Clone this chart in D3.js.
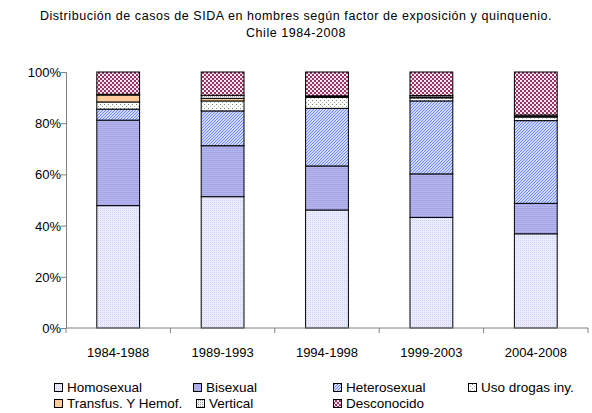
<!DOCTYPE html>
<html>
<head>
<meta charset="utf-8">
<script src="https://cdn.jsdelivr.net/npm/d3@7"></script>
<style>
  body { margin: 0; background: #fff; }
  svg text { font-family: "Liberation Sans", Arial, sans-serif; fill: #000; }
</style>
</head>
<body>
<svg width="592" height="413"></svg>
<script>
// quinquenios and the share (%) of each exposure factor
var periods = ["1984-1988", "1989-1993", "1994-1998", "1999-2003", "2004-2008"];
var homosexual  = [47.8, 51.3, 46.1, 43.2, 36.8];
var bisexual    = [33.4, 19.9, 17.2, 17.0, 11.9];
var heterosexual = [4.3, 13.6, 22.5, 28.5, 32.3];
var usoDrogas   = [2.8, 3.9, 4.3, 1.2, 1.4];
var transfus    = [2.7, 1.0, 0.3, 0.3, 0.3];
var vertical    = [0.3, 1.2, 0.3, 0.6, 0.5];
var desconocido = [8.7, 9.1, 9.3, 9.2, 16.8];
var yTicks = [0, 20, 40, 60, 80, 100];

var seriesNames = ["Homosexual", "Bisexual", "Heterosexual", "Uso drogas iny.",
  "Transfus. Y Hemof.", "Vertical", "Desconocido"];
var seriesValues = [homosexual, bisexual, heterosexual, usoDrogas, transfus, vertical, desconocido];
var patternIds = ["p-homo", "p-bi", "p-hetero", "p-uso", "p-trans", "p-vert", "p-desc"];

var svg = d3.select("svg");
var defs = svg.append("defs");

// fill patterns that mimic the old spreadsheet hatches
function pattern(id, size, bg, draw) {
  var p = defs.append("pattern")
    .attr("id", id)
    .attr("patternUnits", "userSpaceOnUse")
    .attr("width", size).attr("height", size);
  p.append("rect").attr("width", size).attr("height", size).attr("fill", bg);
  draw(p);
}
pattern("p-homo", 2, "#ececff", function(p) {
  p.append("rect").attr("x", 0).attr("y", 0).attr("width", 1).attr("height", 1).attr("fill", "#d2d2f6");
});
pattern("p-bi", 2, "#b6b6f0", function(p) {
  p.append("rect").attr("x", 0).attr("y", 0).attr("width", 2).attr("height", 1).attr("fill", "#a4a4e4");
});
pattern("p-hetero", 3, "#ffffff", function(p) {
  p.append("path").attr("d", "M0,3 L3,0 M-1,1 L1,-1 M2,4 L4,2")
    .attr("stroke", "#6680ff").attr("stroke-width", 1.1);
});
pattern("p-uso", 4, "#ffffff", function(p) {
  p.append("rect").attr("x", 0).attr("y", 0).attr("width", 1).attr("height", 1).attr("fill", "#6f866f");
  p.append("rect").attr("x", 2).attr("y", 2).attr("width", 1).attr("height", 1).attr("fill", "#9fb09f");
});
pattern("p-trans", 2, "#ffcc99", function(p) {});
pattern("p-vert", 2, "#f4f4f4", function(p) {
  p.append("rect").attr("x", 0).attr("y", 0).attr("width", 1).attr("height", 1).attr("fill", "#999");
});
pattern("p-desc", 4, "#993366", function(p) {
  p.append("rect").attr("x", 0).attr("y", 0).attr("width", 2).attr("height", 2).attr("fill", "#f6e6ee");
  p.append("rect").attr("x", 2).attr("y", 2).attr("width", 2).attr("height", 2).attr("fill", "#f6e6ee");
});

// title
svg.append("text").attr("x", 296).attr("y", 20).attr("text-anchor", "middle")
  .style("font-size", "12.5px").style("letter-spacing", "0.55px")
  .text("Distribución de casos de SIDA en hombres según factor de exposición y quinquenio.");
svg.append("text").attr("x", 296).attr("y", 37).attr("text-anchor", "middle")
  .style("font-size", "12.5px").style("letter-spacing", "0.55px")
  .text("Chile 1984-2008");

// scales
var x = d3.scaleBand().domain(periods).range([66, 588]).paddingInner(0.59).paddingOuter(0.295);
var y = d3.scaleLinear().domain([0, 100]).range([328, 72]);

// stack the series
var rows = periods.map(function(p, i) {
  var r = { period: p };
  seriesNames.forEach(function(n, k) { r[n] = seriesValues[k][i]; });
  return r;
});
var stacked = d3.stack().keys(seriesNames)(rows);

var layers = svg.append("g").selectAll("g")
  .data(stacked)
  .join("g")
    .attr("fill", function(d, k) { return "url(#" + patternIds[k] + ")"; });

layers.selectAll("rect")
  .data(function(d) { return d; })
  .join("rect")
    .attr("x", function(d) { return x(d.data.period); })
    .attr("width", x.bandwidth())
    .attr("y", function(d) { return y(d[1]); })
    .attr("height", function(d) { return y(d[0]) - y(d[1]); })
    .attr("stroke", "#000")
    .attr("stroke-width", 1);

// y axis
var yAxis = svg.append("g")
  .attr("transform", "translate(66,0)")
  .call(d3.axisLeft(y).tickValues(yTicks).tickSize(5).tickPadding(0)
    .tickFormat(function(d) { return d + "%"; }));
yAxis.selectAll("text").style("font-size", "13px").attr("dy", "0.35em");
yAxis.select(".domain").attr("stroke", "#808080");
yAxis.selectAll(".tick line").attr("stroke", "#808080");

// x axis: ticks between categories
var xAxis = svg.append("g").attr("transform", "translate(0,328)");
xAxis.append("line").attr("x1", 66).attr("x2", 588).attr("stroke", "#808080");
var step = x.step();
xAxis.selectAll("line.sep")
  .data(d3.range(periods.length + 1))
  .join("line")
    .attr("class", "sep")
    .attr("x1", function(i) { return 66 + i * step; })
    .attr("x2", function(i) { return 66 + i * step; })
    .attr("y1", 0).attr("y2", 5)
    .attr("stroke", "#808080");
xAxis.selectAll("text")
  .data(periods)
  .join("text")
    .attr("x", function(d) { return x(d) + x.bandwidth() / 2; })
    .attr("y", 29)
    .attr("text-anchor", "middle")
    .style("font-size", "13px")
    .text(function(d) { return d; });

// legend
var legendPos = [[54, 392], [193, 392], [333, 392], [468, 392], [54, 408], [196, 408], [333, 408]];
var legend = svg.append("g").selectAll("g")
  .data(seriesNames)
  .join("g")
    .attr("transform", function(d, k) { return "translate(" + legendPos[k][0] + "," + legendPos[k][1] + ")"; });
legend.append("rect")
  .attr("x", 0.5).attr("y", -8.5).attr("width", 8).attr("height", 8)
  .attr("fill", function(d, k) { return "url(#" + patternIds[k] + ")"; })
  .attr("stroke", "#000").attr("stroke-width", 1);
legend.append("text")
  .attr("x", 13).attr("y", 0)
  .style("font-size", "13.5px")
  .text(function(d) { return d; });
</script>
</body>
</html>
